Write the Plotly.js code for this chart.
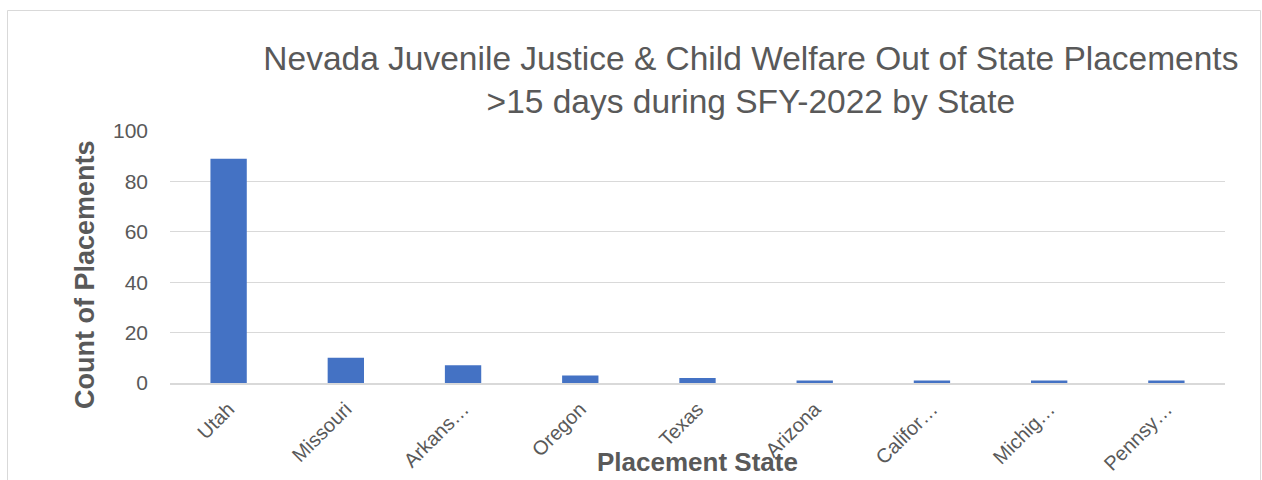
<!DOCTYPE html>
<html><head><meta charset="utf-8">
<script src="https://cdn.plot.ly/plotly-3.0.1.min.js"></script>
<style>html,body{margin:0;padding:0;background:#fff;}#chart{width:1262px;height:480px;}</style>
</head><body><div id="chart"></div>
<script>
const states = ["Utah","Missouri","Arkansas","Oregon","Texas","Arizona","California","Michigan","Pennsylvania"];
const tickLabels = ["Utah","Missouri","Arkans…","Oregon","Texas","Arizona","Califor…","Michig…","Pennsy…"];
const placements = [89,10,7,3,2,1,1,1,1];
const titleText = "Nevada Juvenile Justice & Child Welfare Out of State Placements<br>>15 days during SFY-2022 by State";
const yTitle = "Count of Placements";
const xTitle = "Placement State";

const gray = "#595959";
const font = "Liberation Sans, Arial, sans-serif";
const data = [{
  type: "bar", x: states, y: placements,
  marker: {color: "#4472C4"}, width: 0.31, hoverinfo: "x+y"
}];
const layout = {
  width: 1262, height: 480,
  margin: {l: 170, r: 37, t: 131, b: 97},
  paper_bgcolor: "#fff", plot_bgcolor: "#fff",
  showlegend: false,
  font: {family: font, color: gray},
  title: {text: titleText, font: {size: 33.5, color: gray, family: font},
          xref: "container", x: 0.595, xanchor: "center", yref: "container", y: 0.855, yanchor: "top"},
  xaxis: {tickvals: states, ticktext: tickLabels, tickangle: -45, tickfont: {size: 20, color: gray},
          showgrid: false, showline: true, linecolor: "#d9d9d9", linewidth: 1.5, ticks: "", ticklabelstandoff: 5},
  yaxis: {range: [0, 100], dtick: 20, tickfont: {size: 21, color: gray}, gridcolor: "#d9d9d9", gridwidth: 1,
          zeroline: false, showline: false, ticks: "", ticklabelstandoff: 21},
  annotations: [
    {text: "<b>" + yTitle + "</b>", textangle: -90, xref: "paper", yref: "paper",
     x: (85 - 170) / 1055, y: (383 - 275) / 252, xanchor: "center", yanchor: "middle", showarrow: false,
     font: {size: 27, color: gray, family: font}},
    {text: "<b>" + xTitle + "</b>", xref: "paper", yref: "paper",
     x: (697 - 170) / 1055, y: (383 - 462) / 252, xanchor: "center", yanchor: "middle", showarrow: false,
     font: {size: 26, color: gray, family: font}}
  ],
  shapes: [{type: "rect", xref: "paper", yref: "paper", x0: (7.5 - 170) / 1055, x1: (1260.5 - 170) / 1055,
            y0: (383 - 490) / 252, y1: (383 - 10.5) / 252, line: {color: "#d9d9d9", width: 1}, fillcolor: "rgba(0,0,0,0)", layer: "below"}]
};
Plotly.newPlot("chart", data, layout, {displayModeBar: false, staticPlot: true});
</script></body></html>
